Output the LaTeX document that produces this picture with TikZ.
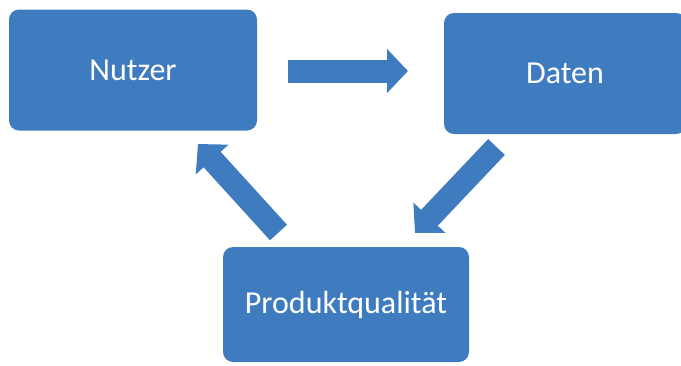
\documentclass[tikz,border=0pt]{standalone}
\usepackage{fontspec}
\setmainfont{Carlito}
\usetikzlibrary{arrows.meta}
\definecolor{boxblue}{RGB}{63,124,191}
\begin{document}
\begin{tikzpicture}[x=1pt,y=-1pt,
  box/.style={fill=boxblue, draw=none, rounded corners=10pt,
    text=white, font=\fontsize{32}{38}\selectfont, inner sep=0pt},
  blockarrow/.style={draw=boxblue, line width=23pt,
    -{Triangle[width=43pt,length=21pt]}}]
  \useasboundingbox (0,0) rectangle (681,365);
  \clip (0,0) rectangle (681,365);

  % process steps
  \node[box, minimum width=248pt, minimum height=121pt] (nutzer) at (133,70) {Nutzer};
  \node[box, minimum width=242pt, minimum height=121pt] (daten) at (565,73.5) {Daten};
  \node[box, minimum width=246pt, minimum height=115pt] (produkt) at (346,304.5) {Produktqualität};

  % arrow end points
  \coordinate (a1s) at (288,71);
  \coordinate (a1e) at (408,71);
  \coordinate (a2s) at (496.5,147);
  \coordinate (a2e) at (415,233);
  \coordinate (a3s) at (278.5,232.5);
  \coordinate (a3e) at (198,144);

  % cycle arrows
  \draw[blockarrow] (a1s) -- (a1e);
  \draw[blockarrow] (a2s) -- (a2e);
  \draw[blockarrow] (a3s) -- (a3e);
\end{tikzpicture}
\end{document}
